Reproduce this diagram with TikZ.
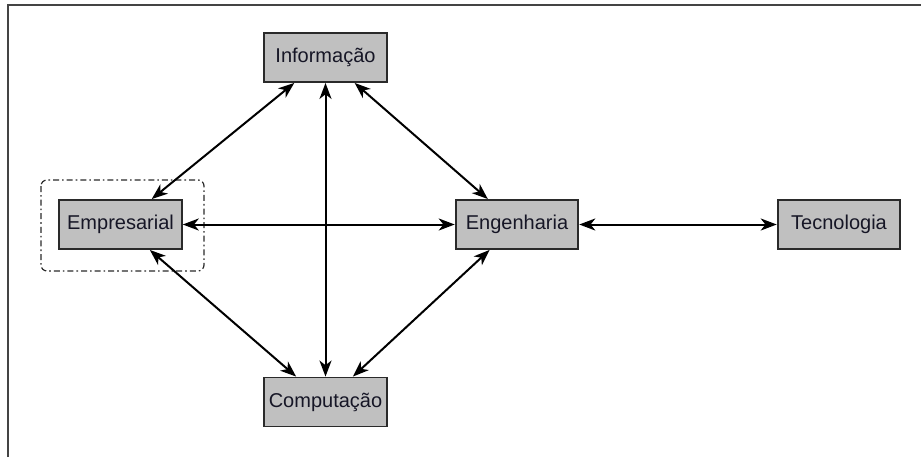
\documentclass[tikz,border=0pt]{standalone}
\usepackage{fontspec}
\setmainfont{Liberation Sans}
\usetikzlibrary{arrows.meta}
\definecolor{boxfill}{HTML}{C0C0C0}
\definecolor{boxline}{HTML}{2A2A2A}
\definecolor{frameline}{HTML}{444444}
\definecolor{labeltext}{HTML}{161626}
\begin{document}
\begin{tikzpicture}[x=0.75pt,y=-0.75pt,
  conceptbox/.style={draw=boxline,line width=1.4pt,fill=boxfill,
    minimum width=92pt,minimum height=36.75pt,inner sep=0pt,
    text=labeltext,font=\fontsize{15}{18}\selectfont},
  link/.style={line width=1.5pt,black,
    {Stealth[length=12pt,width=9pt,inset=3.5pt]}-{Stealth[length=12pt,width=9pt,inset=3.5pt]}},
  groupbox/.style={draw=boxline,line width=0.9pt,rounded corners=4.5pt,
    dash pattern=on 4.5pt off 2.25pt on 1.2pt off 2.25pt}]
  \useasboundingbox (0,0) rectangle (921,457);
  % outer frame: top and left edges only
  \draw[frameline,line width=1.5pt] (8,457) -- (8,5) -- (921,5);
  % dash-dotted group around Empresarial
  \draw[groupbox] (41,180) rectangle (204,271);
  % concept boxes
  \node[conceptbox] (inf)  at (325.5,57.5) {Informação};
  \node[conceptbox] (emp)  at (120.5,224.5) {Empresarial};
  \node[conceptbox] (eng)  at (517,224.5) {Engenharia};
  \node[conceptbox] (tec)  at (839,224.5) {Tecnologia};
  \node[conceptbox] (comp) at (325.5,402) {Computação};
  % two-way links
  \draw[link] (inf) -- (emp);
  \draw[link] (inf) -- (comp);
  \draw[link] (inf) -- (eng);
  \draw[link] (emp) -- (eng);
  \draw[link] (eng) -- (tec);
  \draw[link] (emp) -- (comp);
  \draw[link] (eng) -- (comp);
\end{tikzpicture}
\end{document}
